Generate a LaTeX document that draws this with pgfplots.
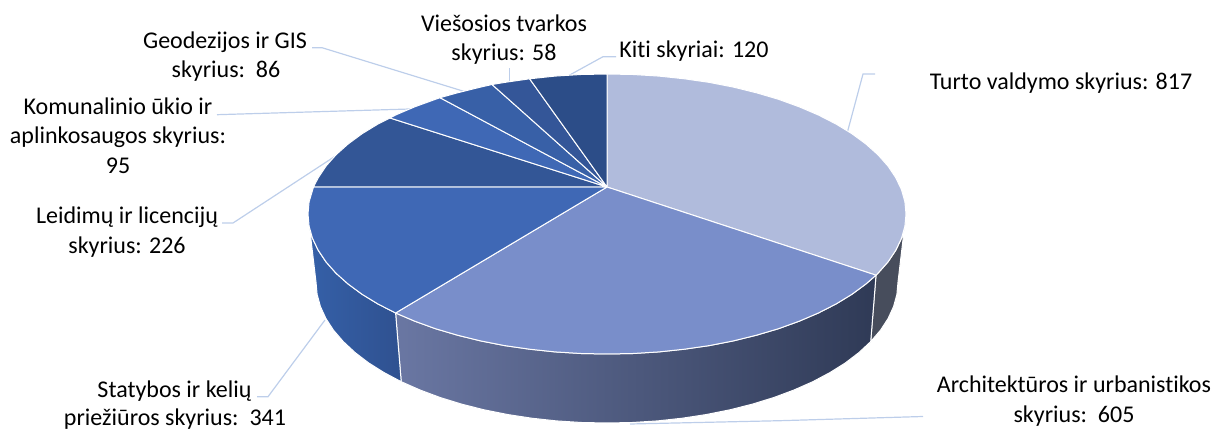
\documentclass[border=0pt]{standalone}
\usepackage{fontspec}
\setmainfont{Carlito}[Ligatures=NoCommon]
\usepackage{pgfplots}
\pgfplotsset{compat=1.18}
\definecolor{lead}{HTML}{BDCEEA}
\definecolor{cTurto}{HTML}{B0BBDC}
\definecolor{cArch}{HTML}{798ECA}
\definecolor{cStat}{HTML}{3F68B5}
\definecolor{cLeid}{HTML}{335696}
\definecolor{cKom}{HTML}{3F68B5}
\definecolor{cGeo}{HTML}{3860A7}
\definecolor{cVies}{HTML}{345698}
\definecolor{cKiti}{HTML}{2C4D88}
\definecolor{sTurto}{HTML}{474D5C}
\definecolor{sArchL}{HTML}{6A77A3}
\definecolor{sArchM}{HTML}{434D6E}
\definecolor{sArchR}{HTML}{2F3A56}
\definecolor{sStatL}{HTML}{3560A8}
\definecolor{sStatR}{HTML}{2F5190}
\tikzset{lab/.style={font=\fontsize{24}{28}\selectfont, text=black, anchor=base, inner sep=0pt},
  slice/.style={draw=white, line width=1pt, line join=round}}
\begin{document}
\begin{tikzpicture}
\begin{axis}[
  axis lines=none, scale only axis, width=1215pt, height=428pt,
  xmin=0, xmax=1215, ymin=0, ymax=428, y dir=reverse, clip=false
]
\addplot[draw=none, forget plot] coordinates {(0,0) (1215,0) (1215,428) (0,428)};
% leader lines
\addplot[lead, line width=1.2pt] coordinates {(847.7,131) (863,74) (875,74)};
\addplot[lead, line width=1.2pt] coordinates {(630,424) (780,420.7) (923,416.5)};
\addplot[lead, line width=1.2pt] coordinates {(325,320) (268,396.7) (257,396.7)};
\addplot[lead, line width=1.2pt] coordinates {(337,155) (233,223) (222,223)};
\addplot[lead, line width=1.2pt] coordinates {(410,109) (217,114.7)};
\addplot[lead, line width=1.2pt] coordinates {(465,91.7) (322,47.7) (312,47.7)};
\addplot[lead, line width=1.2pt] coordinates {(509.3,81.7) (509.3,68)};
\addplot[lead, line width=1.2pt] coordinates {(567,76.5) (603,56.7) (616,56.7)};
% side faces
\addplot[slice, fill=sTurto] coordinates {(906,214) (904.9,226.2) (901.5,238.3) (895.8,250.2) (888,261.9) (878,273.2) (876,275.2) (870.7,341.6) (880.5,330.2) (888.1,318.5) (893.6,306.5) (896.9,294.3) (898,282) (906,214)};
\addplot[slice, left color=sArchL, middle color=sArchM, right color=sArchR] coordinates {(876,275.2) (865.9,284) (851.9,294.3) (836,304) (818.4,313) (799.2,321.2) (778.5,328.7) (756.5,335.2) (733.4,340.9) (709.3,345.6) (684.4,349.2) (658.9,351.9) (633.1,353.5) (607,354) (580.9,353.5) (555.1,351.9) (529.6,349.2) (504.7,345.6) (480.6,340.9) (457.5,335.2) (435.5,328.7) (414.8,321.2) (395.6,313) (401.2,381.7) (420,390) (440.1,397.5) (461.5,404.1) (484,409.8) (507.5,414.5) (531.7,418.2) (556.5,420.9) (581.6,422.5) (607,423) (632.4,422.5) (657.5,420.9) (682.3,418.2) (706.5,414.5) (730,409.8) (752.5,404.1) (773.9,397.5) (794,390) (812.8,381.7) (829.9,372.6) (845.4,362.9) (859,352.5) (870.7,341.6) (876,275.2)};
\addplot[slice, left color=sStatL, right color=sStatR] coordinates {(395.6,313) (378,304) (362.1,294.3) (348.1,284) (336,273.2) (326,261.9) (318.2,250.2) (312.5,238.3) (309.1,226.2) (308,214) (316,282) (317.1,294.3) (320.4,306.5) (325.9,318.5) (333.5,330.2) (343.3,341.6) (355,352.5) (368.6,362.9) (384.1,372.6) (401.2,381.7) (395.6,313)};
% top faces
\addplot[slice, fill=cTurto] coordinates {(607,187) (607,74) (633.1,74.5) (658.9,76.1) (684.4,78.8) (709.3,82.4) (733.4,87.1) (756.5,92.8) (778.5,99.3) (799.2,106.8) (818.4,115) (836,124) (851.9,133.7) (865.9,144) (878,154.8) (888,166.1) (895.8,177.8) (901.5,189.7) (904.9,201.8) (906,214) (904.9,226.2) (901.5,238.3) (895.8,250.2) (888,261.9) (878,273.2) (876,275.2) (607,187)};
\addplot[slice, fill=cArch] coordinates {(607,187) (876,275.2) (865.9,284) (851.9,294.3) (836,304) (818.4,313) (799.2,321.2) (778.5,328.7) (756.5,335.2) (733.4,340.9) (709.3,345.6) (684.4,349.2) (658.9,351.9) (633.1,353.5) (607,354) (580.9,353.5) (555.1,351.9) (529.6,349.2) (504.7,345.6) (480.6,340.9) (457.5,335.2) (435.5,328.7) (414.8,321.2) (395.6,313) (607,187)};
\addplot[slice, fill=cStat] coordinates {(607,187) (395.6,313) (378,304) (362.1,294.3) (348.1,284) (336,273.2) (326,261.9) (318.2,250.2) (312.5,238.3) (309.1,226.2) (308,214) (309.1,201.8) (313.5,187) (607,187)};
\addplot[slice, fill=cLeid] coordinates {(607,187) (313.5,187) (318.2,177.8) (326,166.1) (336,154.8) (348.1,144) (362.1,133.7) (378,124) (390,118) (607,187)};
\addplot[slice, fill=cKom] coordinates {(607,187) (390,118) (395.6,115) (414.8,106.8) (435.5,99.3) (440,97.7) (607,187)};
\addplot[slice, fill=cGeo] coordinates {(607,187) (440,97.7) (457.5,92.8) (480.6,87.1) (492,84.5) (607,187)};
\addplot[slice, fill=cVies] coordinates {(607,187) (492,84.5) (504.7,82.4) (529.6,78.8) (607,187)};
\addplot[slice, fill=cKiti] coordinates {(607,187) (529.6,78.8) (555.1,76.1) (580.9,74.5) (607,74) (607,187)};
% labels
\node[lab] at (axis cs:225,48.3) {Geodezijos ir GIS};
\node[lab] at (axis cs:226,78) {skyrius:\ \ 86};
\node[lab] at (axis cs:504,31.7) {Viešosios tvarkos};
\node[lab] at (axis cs:504,61) {skyrius: 58};
\node[lab] at (axis cs:694,57.3) {Kiti skyriai: 120};
\node[lab] at (axis cs:1061,90) {Turto valdymo skyrius: 817};
\node[lab] at (axis cs:118,115) {Komunalinio ūkio ir};
\node[lab] at (axis cs:118,144) {aplinkosaugos skyrius:};
\node[lab] at (axis cs:118,174) {95};
\node[lab] at (axis cs:127,224) {Leidimų ir licencijų};
\node[lab] at (axis cs:127,254) {skyrius: 226};
\node[lab] at (axis cs:174.5,397) {Statybos ir kelių};
\node[lab] at (axis cs:175,425) {priežiūros skyrius:\ \ 341};
\node[lab] at (axis cs:1074,392) {Architektūros ir urbanistikos};
\node[lab] at (axis cs:1074,422.7) {skyrius:\ \ 605};
\end{axis}
\end{tikzpicture}
\end{document}
